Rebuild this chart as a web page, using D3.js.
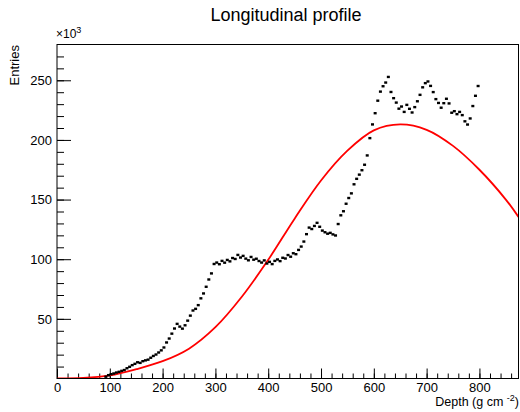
<!DOCTYPE html>
<html>
<head>
<meta charset="utf-8">
<script src="https://d3js.org/d3.v7.min.js"></script>
<style>
body { margin: 0; background: #fff; }
text { font-family: "Liberation Sans", Arial, Helvetica, sans-serif; fill: #000; }
</style>
</head>
<body>
<div id="chart-area"></div>
<script>
// histogram: first bin low edge and width (g cm^-2), contents in thousands
var binLow = 90;
var binWidth = 5;
var entries = [
	1.5, 2.8, 3.6, 4.2, 5.0, 5.6, 6.4, 7.1, 8.6, 9.8,
	11.2, 12.3, 13.6, 13.1, 14.5, 15.2, 15.8, 17.4, 18.9, 20.1,
	21.8, 23.6, 26.0, 30.2, 33.5, 37.6, 41.9, 45.8, 43.5, 41.8,
	44.6, 48.5, 52.7, 57.0, 58.4, 61.5, 67.2, 71.3, 76.9, 83.0,
	88.1, 96.0, 97.2, 95.8, 98.6, 97.1, 99.4, 98.2, 101.0, 100.2,
	103.6, 101.4, 102.8, 100.5, 99.1, 101.9, 99.6, 100.4, 98.5, 97.2,
	99.0, 96.4, 97.8, 95.9, 98.6, 99.8, 98.4, 101.2, 100.6, 103.5,
	102.1, 105.0, 104.2, 107.8, 110.6, 114.8, 121.0, 126.5, 125.3, 127.9,
	130.5, 127.2, 124.0, 122.6, 121.4, 122.1, 120.8, 119.9, 129.5, 136.8,
	140.2, 146.5, 151.3, 155.2, 162.8, 167.4, 170.9, 174.6, 179.2, 187.0,
	201.5, 213.0, 222.4, 232.9, 240.5, 245.0, 248.1, 252.8, 240.2, 235.0,
	231.3, 226.2, 228.0, 223.5, 229.4, 226.1, 223.0, 227.5, 232.4, 237.8,
	244.1, 247.6, 249.0, 245.3, 240.1, 234.2, 231.0, 227.0, 230.8, 234.5,
	230.6, 222.8, 224.1, 221.6, 223.5, 220.8, 215.6, 212.9, 218.0, 228.4,
	237.0, 245.2
];

// fitted curve
var fitDepth = [0, 50, 100, 150, 200, 250, 300, 350, 400, 450, 500, 550, 600, 650, 700, 750, 800, 850, 874];
var fitEntries = [0, 0.4, 2.6, 7.8, 14.5, 25.0, 43.0, 68.5, 99.5, 134.0, 166.0, 191.0, 208.0, 213.0, 208.5, 195.0, 175.0, 150.0, 135.4];

var xTicks = [0, 100, 200, 300, 400, 500, 600, 700, 800];
var yTicks = [50, 100, 150, 200, 250];

var margin = {top: 44.5, right: 1.5, bottom: 33.5, left: 57};
var width = 520 - margin.left - margin.right;
var height = 412 - margin.top - margin.bottom;

var svg = d3.select("#chart-area")
	.append("svg")
		.attr("width", 520)
		.attr("height", 412);

var g = svg.append("g")
	.attr("transform", "translate(" + margin.left + ", " + margin.top + ")");

var x = d3.scaleLinear()
	.domain([0, 874])
	.range([0, width]);

var y = d3.scaleLinear()
	.domain([0, 280])
	.range([height, 0]);

svg.append("clipPath")
	.attr("id", "frame-clip")
	.append("rect")
		.attr("width", width)
		.attr("height", height);

// title and axis titles
svg.append("text")
	.attr("x", 286)
	.attr("y", 21)
	.attr("font-size", "18px")
	.attr("text-anchor", "middle")
	.text("Longitudinal profile");

svg.append("text")
	.attr("transform", "translate(19, 45) rotate(-90)")
	.attr("font-size", "13px")
	.attr("text-anchor", "end")
	.text("Entries");

var xl = svg.append("text")
	.attr("x", 519)
	.attr("y", 406)
	.attr("font-size", "12.5px")
	.attr("text-anchor", "end");
xl.append("tspan").text("Depth (g cm ");
xl.append("tspan").attr("font-size", "9px").attr("dy", "-5").text("-2");
xl.append("tspan").attr("dy", "5").text(")");

var ex = svg.append("text")
	.attr("x", 56)
	.attr("y", 38)
	.attr("font-size", "12px");
ex.append("tspan").text("\u00d710");
ex.append("tspan").attr("font-size", "9px").attr("dy", "-5").text("3");

// minor ticks
var xMinor = d3.axisBottom(x)
	.tickValues(d3.range(0, 874, 20))
	.tickSize(-5)
	.tickFormat("");
g.append("g")
	.attr("class", "x minor")
	.attr("transform", "translate(0, " + height + ")")
	.call(xMinor);

var yMinor = d3.axisLeft(y)
	.tickValues(d3.range(10, 280, 10))
	.tickSize(-7)
	.tickFormat("");
g.append("g")
	.attr("class", "y minor")
	.call(yMinor);

// major ticks with labels
var bottomAxis = d3.axisBottom(x)
	.tickValues(xTicks)
	.tickSize(-10)
	.tickPadding(4);
g.append("g")
	.attr("class", "bottom axis")
	.attr("transform", "translate(0, " + height + ")")
	.call(bottomAxis);

var leftAxis = d3.axisLeft(y)
	.tickValues(yTicks)
	.tickSize(-14)
	.tickPadding(5);
g.append("g")
	.attr("class", "left axis")
	.call(leftAxis);

g.selectAll(".domain").remove();
g.selectAll(".tick line").attr("stroke", "#000");
g.selectAll(".tick text")
	.attr("font-size", "13px")
	.attr("font-family", "Liberation Sans, Arial, sans-serif")
	.attr("fill", "#000");

// fit curve
var fitData = fitDepth.map(function(d, i) { return {x: d, y: fitEntries[i]}; });
var line = d3.line()
	.x(function(d) { return x(d.x); })
	.y(function(d) { return y(d.y); })
	.curve(d3.curveCatmullRom.alpha(0.5));

g.append("path")
	.datum(fitData)
	.attr("clip-path", "url(#frame-clip)")
	.attr("d", line)
	.attr("fill", "none")
	.attr("stroke", "#ff0000")
	.attr("stroke-width", 1.8);

// histogram points
var pts = g.selectAll("rect.pt").data(entries);
pts.enter()
	.append("rect")
		.attr("class", "pt")
		.attr("x", function(d, i) { return x(binLow + (i + 0.5) * binWidth) - 1.5; })
		.attr("y", function(d) { return y(d) - 1.2; })
		.attr("width", 3)
		.attr("height", 2.4)
		.attr("fill", "#000");

// frame
g.append("rect")
	.attr("width", width)
	.attr("height", height)
	.attr("fill", "none")
	.attr("stroke", "#000")
	.attr("stroke-width", 1);
</script>
</body>
</html>
